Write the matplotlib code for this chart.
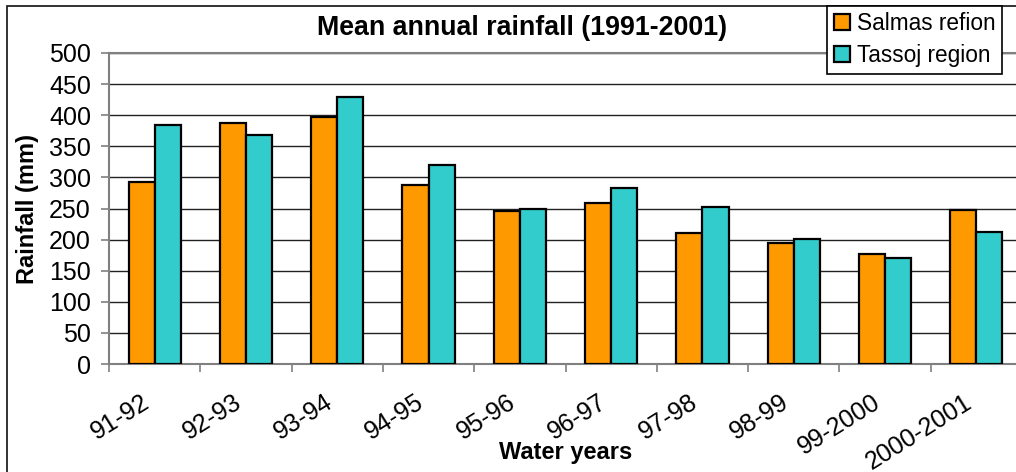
import matplotlib
matplotlib.use("Agg")
import matplotlib.pyplot as plt
import numpy as np
from matplotlib.patches import Rectangle
from matplotlib.transforms import ScaledTranslation

plt.rcParams["font.family"] = ["Liberation Sans", "DejaVu Sans"]

years = ["91-92", "92-93", "93-94", "94-95", "95-96",
         "96-97", "97-98", "98-99", "99-2000", "2000-2001"]
salmas = [292, 388, 397, 288, 246, 259, 210, 195, 177, 248]
tassoj = [385, 368, 430, 320, 249, 283, 253, 201, 170, 213]

W, H = 1016, 472
fig = plt.figure(figsize=(W / 100, H / 100), dpi=100)
ax = fig.add_axes([109 / W, 1 - 364 / H, 913 / W, 311 / H])

x = np.arange(len(years))
bw = 0.286
ax.bar(x - bw / 2, salmas, bw, color="#FF9900", edgecolor="black", linewidth=1.6,
       label="Salmas refion", zorder=3)
ax.bar(x + bw / 2, tassoj, bw, color="#33CCCC", edgecolor="black", linewidth=1.6,
       label="Tassoj region", zorder=3)

ax.set_xlim(-0.5, len(years) - 0.5)
ax.set_ylim(0, 500)
ax.set_yticks(range(0, 501, 50))
ax.yaxis.grid(True, color="#222222", linewidth=1)
ax.set_axisbelow(True)

for side in ["left", "bottom", "top"]:
    ax.spines[side].set_color("#808080")
    ax.spines[side].set_linewidth(1.5)
ax.spines["right"].set_visible(False)

# category labels sit at the centres, tick marks between categories
ax.set_xticks(x)
ax.set_xticklabels(years, rotation=32, ha="right", va="center",
                   rotation_mode="anchor", fontsize=18)
ax.tick_params(axis="x", length=0, pad=26)
ax.set_xticks(np.arange(-0.5, len(years)), minor=True)
ax.tick_params(axis="x", which="minor", length=6, width=1.2, color="#808080",
               direction="out")
shift = ScaledTranslation(-0.07, 0, fig.dpi_scale_trans)
for lbl in ax.get_xticklabels():
    lbl.set_transform(lbl.get_transform() + shift)

ax.tick_params(axis="y", length=6, width=1.2, color="#808080", pad=7,
               labelsize=18)

ax.set_ylabel("Rainfall (mm)", fontsize=17, fontweight="bold")
ax.yaxis.set_label_coords(-0.089, 0.5)
ax.yaxis.label.set_va("center")
ax.set_xlabel("Water years", fontsize=17, fontweight="bold")
ax.xaxis.set_label_coords(0.5, -0.283)
ax.xaxis.label.set_va("center")

fig.text(522 / W, 1 - 28 / H, "Mean annual rainfall (1991-2001)",
         ha="center", va="center", fontsize=19.3, fontweight="bold")

# chart frame
fig.add_artist(Rectangle((7 / W, -0.1), 2, 1.1 - 5.5 / H, transform=fig.transFigure,
                         fill=False, edgecolor="#222222", linewidth=1.3))

leg = fig.legend(loc="upper right", bbox_to_anchor=(1002 / W, 1 - 5.5 / H),
                 fontsize=16.3, frameon=True, fancybox=False, edgecolor="black",
                 framealpha=1, borderaxespad=0, handlelength=0.7,
                 handleheight=0.7, handletextpad=0.3, labelspacing=0.38,
                 borderpad=0.3)
leg.get_frame().set_linewidth(1.2)
leg.set_zorder(10)

fig.savefig("out.png", dpi=100)
